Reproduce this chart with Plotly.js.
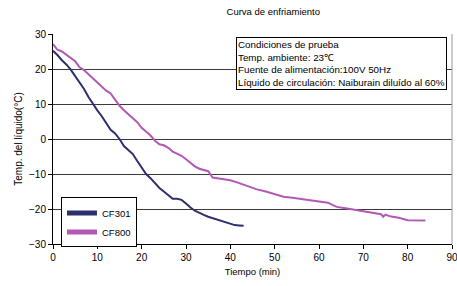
<!DOCTYPE html>
<html>
<head>
<meta charset="utf-8">
<script src="https://cdn.plot.ly/plotly-3.0.1.min.js"></script>
<style>html,body{margin:0;padding:0;background:#fff;}#chart{width:457px;height:286px;}</style>
</head>
<body>
<div id="chart"></div>
<script>
var cf301Time = [0,1,2,3,4,5,6,7,8,9,10,11,12,13,14,15,16,17,18,19,20,21,22,23,24,25,26,27,28,29,30,31,32,33,34,35,36,37,38,39,40,41,42,43];
var cf301Temp = [25.2,24,22.5,21.3,19.8,18,16.2,14.3,12,10,8.2,6.5,4.6,2.6,1.6,0,-2,-3.2,-4.3,-6.3,-8,-10,-11.2,-12.7,-14,-15,-16,-17.1,-17.1,-17.4,-18.4,-19.6,-20.5,-21.2,-21.7,-22.2,-22.6,-23,-23.4,-24,-24.3,-24.6,-24.7,-24.8];
var cf800Time = [0,1,2,3,4,5,6,7,8,9,10,11,12,13,14,15,16,17,18,19,20,21,22,23,24,25,26,27,28,29,30,31,32,33,34,35,36,37,38,39,40,42,44,46,48,50,52,54,56,58,60,62,63,64,66,68,70,72,73,74,74.5,75,76,78,80,82,84];
var cf800Temp = [27.1,25.5,25,24,23.2,22.2,20.5,19.7,18.5,17.3,16,15,13.8,13,11.2,9.5,8.2,7,5.8,4.8,3.2,2,1,-0.5,-1.5,-1.8,-2.5,-3.6,-4.3,-4.8,-5.8,-6.8,-7.8,-8.5,-8.9,-9.2,-11,-11.2,-11.3,-11.6,-11.8,-12.6,-13.6,-14.4,-15,-15.8,-16.5,-16.8,-17.1,-17.4,-17.8,-18.2,-18.8,-19.4,-19.8,-20.2,-20.8,-21.1,-21.2,-21.5,-22.2,-21.6,-22.1,-22.5,-23.2,-23.3,-23.3];
var seriesNames = ['CF301','CF800'];
var xTicks = [0,10,20,30,40,50,60,70,80,90];
var yTicks = [-30,-20,-10,0,10,20,30];
var conditionLines = ['Condiciones de prueba','Temp. ambiente: 23℃','Fuente de alimentación:100V 50Hz','Líquido de circulación: Naiburain diluído al 60%'];

var fontFam = '"Liberation Sans", Arial, sans-serif';
var traces = [
  {x: cf301Time, y: cf301Temp, name: seriesNames[0], mode: 'lines', line: {color: '#2E2F6E', width: 2}},
  {x: cf800Time, y: cf800Temp, name: seriesNames[1], mode: 'lines', line: {color: '#B259B4', width: 2}}
];
var layout = {
  width: 457, height: 286,
  margin: {l: 53, r: 5, t: 34, b: 42},
  paper_bgcolor: '#fff', plot_bgcolor: '#fff',
  font: {family: fontFam, size: 10, color: '#000'},
  title: {text: 'Curva de enfriamiento', font: {size: 9.5, family: fontFam}, x: 0.598, xanchor: 'center', y: 0.96, yanchor: 'middle'},
  xaxis: {range: [0, 90], tickvals: xTicks, ticktext: xTicks.map(String), showgrid: false, zeroline: false,
    showline: true, linecolor: '#000', linewidth: 1, ticks: 'outside', ticklen: 4, tickcolor: '#000',
    ticklabeloverflow: 'allow',
    tickfont: {size: 10}, title: {text: 'Tiempo (min)', font: {size: 9.5}, standoff: 6}},
  yaxis: {range: [-30, 30], tickvals: yTicks, ticktext: yTicks.map(function(v){return v < 0 ? '−' + Math.abs(v) : String(v);}),
    showgrid: true, gridcolor: '#3a3a3a', gridwidth: 1, zeroline: false,
    showline: true, linecolor: '#000', linewidth: 1, ticks: 'outside', ticklen: 4, tickcolor: '#000',
    tickfont: {size: 10}, title: {text: 'Temp. del líquido(°C)', font: {size: 10}, standoff: 4}},
  showlegend: true,
  legend: {x: 0.02, y: 0.222, xanchor: 'left', yanchor: 'top', bgcolor: '#fff', bordercolor: '#000', borderwidth: 1,
    font: {size: 9.5}, itemwidth: 30, tracegroupgap: 0, itemsizing: 'constant'},
  shapes: [
    {type: 'line', xref: 'paper', yref: 'paper', x0: 1, x1: 1, y0: 0, y1: 1, line: {color: '#999', width: 1}}
  ],
  annotations: [
    {xref: 'paper', yref: 'paper', x: 0.459, y: 0.985, xanchor: 'left', yanchor: 'top', align: 'left', showarrow: false,
     text: conditionLines.join('<br>'), font: {size: 9.8, family: fontFam}, bgcolor: '#fff', bordercolor: '#000', borderwidth: 1, borderpad: 1}
  ]
};
Plotly.newPlot('chart', traces, layout, {staticPlot: true, displayModeBar: false});
</script>
</body>
</html>
